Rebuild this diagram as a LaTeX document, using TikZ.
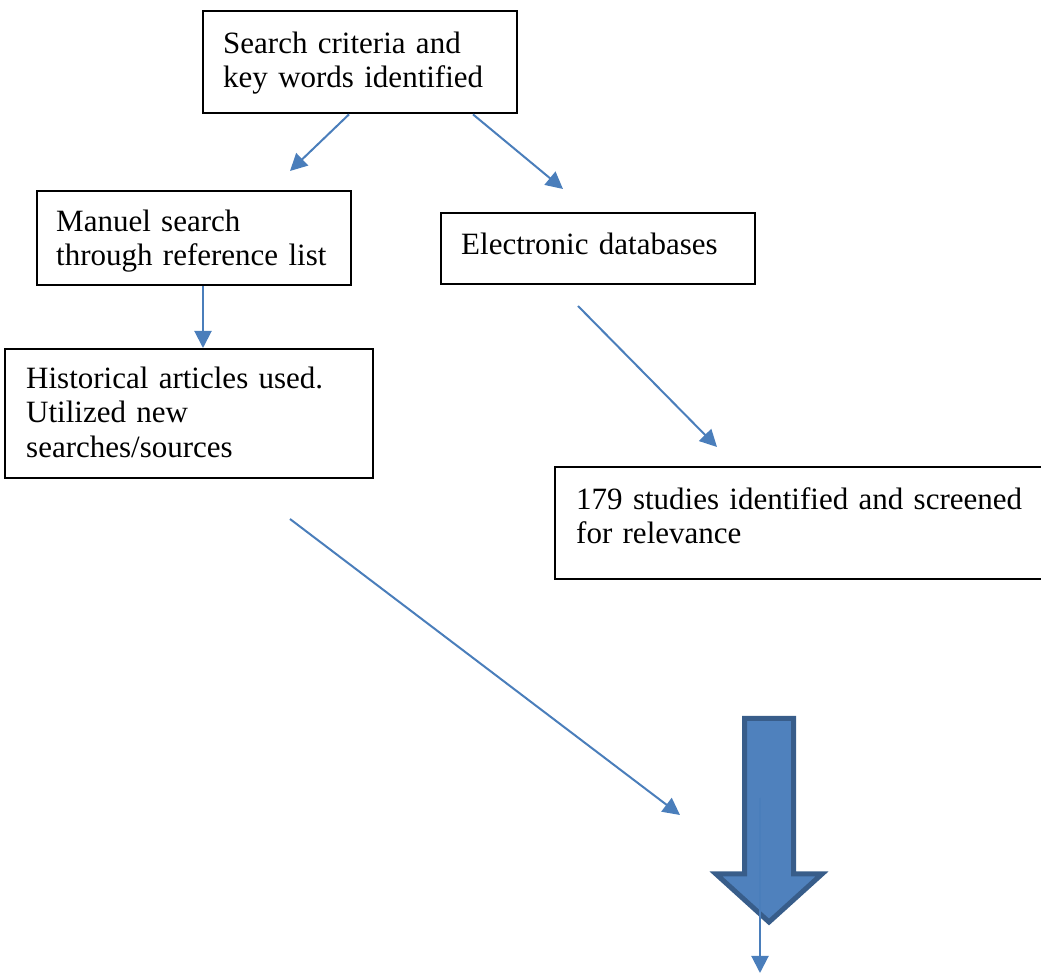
\documentclass[tikz,border=0pt]{standalone}
\usepackage{fontspec}
\setmainfont{Liberation Serif}
\usetikzlibrary{arrows.meta}
\definecolor{arrowblue}{RGB}{74,126,187}
\definecolor{blockfill}{RGB}{79,129,189}
\definecolor{blockline}{RGB}{56,93,138}

\begin{document}
\begin{tikzpicture}[x=0.5pt,y=-0.5pt,
	box/.style={draw=black,line width=1.2pt,anchor=north west,align=left,inner ysep=0pt,font=\fontsize{15.5}{17.3}\selectfont},
	link/.style={color=arrowblue,line width=1pt,-{Triangle[length=8.5pt,width=8.5pt]}}]
	\useasboundingbox (0,0) rectangle (1041,973);
	\clip (0,0) rectangle (1041,973);
	% boxes
	\node[box,inner xsep=10pt,text width=137pt,text height=21pt,text depth=30pt] (criteria) at (202,10) {\mbox{Search criteria and}\\\mbox{key words identified}};
	\node[box,inner xsep=9.5pt,text width=138pt,text height=20pt,text depth=27pt] (manual) at (36,190) {\mbox{Manuel search}\\\mbox{through reference list}};
	\node[box,inner xsep=10pt,text width=137pt,text height=20.5pt,text depth=15pt] (databases) at (440,212) {\mbox{Electronic databases}};
	\node[box,inner xsep=10.5pt,text width=163pt,text height=19.5pt,text depth=45pt] (historical) at (4,348) {\mbox{Historical articles used.}\\\mbox{Utilized new}\\\mbox{searches/sources}};
	\node[box,inner xsep=10.5pt,text width=240pt,text height=21pt,text depth=35pt] (studies) at (554,466) {\mbox{179 studies identified and screened}\\\mbox{for relevance}};
	% free ends of the connectors
	\coordinate (c1) at (290,171);
	\coordinate (c2) at (563,189);
	\coordinate (d1) at (578,306);
	\coordinate (d2) at (717,447);
	\coordinate (h1) at (290,519);
	\coordinate (h2) at (680,815);
	\coordinate (m1) at (760,798);
	\coordinate (m2) at (760,973);
	% connectors
	\draw[link] (criteria.south -| 349,0) -- (c1);
	\draw[link] (criteria.south -| 473,0) -- (c2);
	\draw[link] (manual.south -| 203,0) -- (historical.north -| 203,0);
	\draw[link] (d1) -- (d2);
	\draw[link] (h1) -- (h2);
	% block arrow
	\draw[fill=blockfill,draw=blockline,line width=2.5pt] (744.5,718.5) -- (793.5,718.5) -- (793.5,874) -- (822,874) -- (769,922) -- (716,874) -- (744.5,874) -- cycle;
	\draw[link] (m1) -- (m2);
\end{tikzpicture}
\end{document}
